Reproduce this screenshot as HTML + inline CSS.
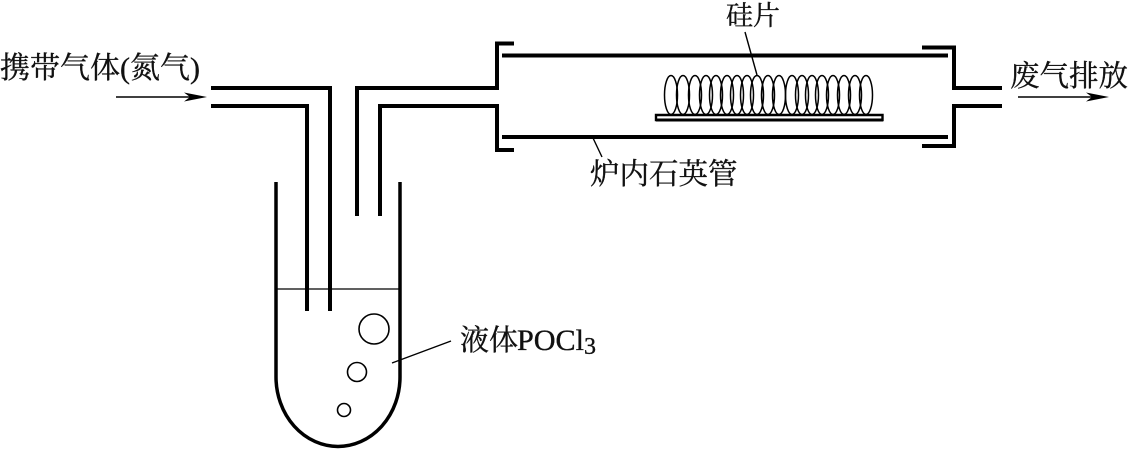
<!DOCTYPE html>
<html lang="zh">
<head>
<meta charset="utf-8">
<style>
html,body{margin:0;padding:0;background:#fff;width:1128px;height:449px;overflow:hidden}
svg{display:block}
text{font-family:"Liberation Serif","Noto Serif CJK SC",serif;fill:#111;stroke:#111;stroke-width:.35px}
</style>
</head>
<body>
<svg width="1128" height="449" viewBox="0 0 1128 449" xmlns="http://www.w3.org/2000/svg">
<g fill="none" stroke="#000" stroke-width="4">
  <path d="M211 88H330V311"/>
  <path d="M211 106H307V311"/>
  <path d="M357 216V88H497V43.500H514"/>
  <path d="M380 216V106H497V150H514"/>
  <path d="M502 55.500H948"/>
  <path d="M502 137H948"/>
  <path d="M922 47.500H954V88H1002"/>
  <path d="M1002 106H954V146H922"/>
  <path d="M276 182V377A62 69.500 0 0 0 400 377V182" stroke-width="3.500"/>
</g>
<path d="M276 289H400" stroke="#000" stroke-width="1.300"/>
<g fill="none" stroke="#000" stroke-width="1.600">
  <circle cx="374" cy="329" r="15"/>
  <circle cx="357" cy="372" r="9.500"/>
  <circle cx="344" cy="410" r="6.500"/>
</g>
<g fill="none" stroke="#000" stroke-width="1.500">
  <ellipse cx="671" cy="95" rx="6.500" ry="19.500"/>
  <ellipse cx="683" cy="95" rx="6.500" ry="19.500"/>
  <ellipse cx="695" cy="95" rx="6.500" ry="19.500"/>
  <ellipse cx="706" cy="95" rx="6.500" ry="19.500"/>
  <ellipse cx="716" cy="95" rx="6.500" ry="19.500"/>
  <ellipse cx="727" cy="95" rx="6.500" ry="19.500"/>
  <ellipse cx="737" cy="95" rx="6.500" ry="19.500"/>
  <ellipse cx="747" cy="95" rx="6.500" ry="19.500"/>
  <ellipse cx="757" cy="95" rx="6.500" ry="19.500"/>
  <ellipse cx="768" cy="95" rx="6.500" ry="19.500"/>
  <ellipse cx="779" cy="95" rx="6.500" ry="19.500"/>
  <ellipse cx="792" cy="95" rx="6.500" ry="19.500"/>
  <ellipse cx="802" cy="95" rx="6.500" ry="19.500"/>
  <ellipse cx="812" cy="95" rx="6.500" ry="19.500"/>
  <ellipse cx="822" cy="95" rx="6.500" ry="19.500"/>
  <ellipse cx="833" cy="95" rx="6.500" ry="19.500"/>
  <ellipse cx="844" cy="95" rx="6.500" ry="19.500"/>
  <ellipse cx="855" cy="95" rx="6.500" ry="19.500"/>
  <ellipse cx="866" cy="95" rx="6.500" ry="19.500"/>
</g>
<path d="M656 114.500H883V120.500H656Z" fill="#fff" stroke="none"/>
<path d="M656 115H882.500V120H656Z" fill="none" stroke="#000" stroke-width="2.400"/>
<path d="M656 120H883" stroke="#000" stroke-width="3"/>
<g stroke="#000" stroke-width="1.400" fill="none">
  <path d="M745 32L757 75"/>
  <path d="M593 138L602 157"/>
  <path d="M392 363L451 341"/>
  <path d="M116 97H190"/>
  <path d="M1018 97H1092"/>
</g>
<path d="M184 92.500L207 97L184 101.500L190 97Z" fill="#000"/>
<path d="M1086 92.500L1109 97L1086 101.500L1092 97Z" fill="#000"/>
<text x="0" y="78" font-size="30">携带气体(氮气)</text>
<text x="726" y="25" font-size="27">硅片</text>
<text x="590" y="184" font-size="29.500">炉内石英管</text>
<text x="1010" y="86" font-size="29.500">废气排放</text>
<text x="460" y="350" font-size="29">液体</text>
<text x="517" y="350" font-size="30" textLength="67" lengthAdjust="spacingAndGlyphs">POCl</text>
<text x="584" y="354" font-size="24">3</text>
</svg>
</body>
</html>
